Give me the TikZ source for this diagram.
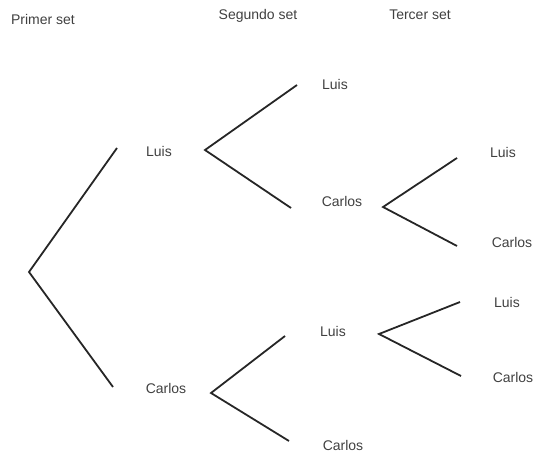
\documentclass[tikz,border=0pt]{standalone}
\usepackage{fontspec}
\setmainfont{Liberation Sans}
\usepackage{tikz}

\begin{document}
\begin{tikzpicture}[x=1pt, y=-1pt,
  every node/.style={text=black!75, font=\fontsize{14}{16}\selectfont},
  branch/.style={line width=1.8pt, black!85}]
\useasboundingbox (0,0) rectangle (535,454);
% titles
\node (Primer) at (43,19) {Primer set};
\node (Segundo) at (258,16) {Segundo set};
\node (Tercer) at (420,15) {Tercer set};
% first set
\node (LuisA) at (159,151) {Luis};
\node (CarlosA) at (166,388) {Carlos};
% second set
\node (LuisB) at (335,84) {Luis};
\node (CarlosB) at (342,201) {Carlos};
\node (LuisC) at (333,331) {Luis};
\node[inner sep=1pt] (CarlosC) at (343,445) {Carlos};
% third set
\node (LuisD) at (503,152) {Luis};
\node (CarlosD) at (512,242) {Carlos};
\node (LuisE) at (507,302) {Luis};
\node (CarlosE) at (513,377) {Carlos};
% branch points
\coordinate (root) at (29,272);
\coordinate (rootUp) at (117,148);
\coordinate (rootDown) at (113,387);
\coordinate (a) at (205,150);
\coordinate (aUp) at (297,85);
\coordinate (aDown) at (291,208);
\coordinate (b) at (211,393);
\coordinate (bUp) at (285,336);
\coordinate (bDown) at (289,441);
\coordinate (c) at (383,207);
\coordinate (cUp) at (457,158);
\coordinate (cDown) at (457,246);
\coordinate (d) at (379,334);
\coordinate (dUp) at (460,302);
\coordinate (dDown) at (461,376);
\draw[branch] (rootUp) -- (root) -- (rootDown);
\draw[branch] (aUp) -- (a) -- (aDown);
\draw[branch] (bUp) -- (b) -- (bDown);
\draw[branch] (cUp) -- (c) -- (cDown);
\draw[branch] (dUp) -- (d) -- (dDown);
\end{tikzpicture}
\end{document}
